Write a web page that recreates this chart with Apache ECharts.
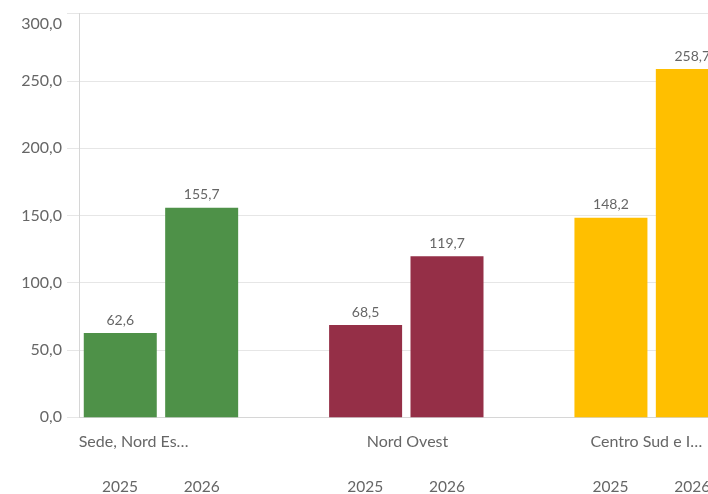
<!DOCTYPE html>
<html>
<head>
<meta charset="utf-8">
<script src="https://cdn.jsdelivr.net/npm/echarts@6/dist/echarts.min.js"></script>
<style>
html,body{margin:0;padding:0;background:#fff;}
#chart{width:708px;height:494px;}
</style>
</head>
<body>
<div id="chart"></div>
<script>
const categories = ['Sede, Nord Es…', 'Nord Ovest', 'Centro Sud e I…'];
const years = ['2025', '2026'];
const values2025 = [62.6, 68.5, 148.2];
const values2026 = [155.7, 119.7, 258.7];
const groupColors = ['#4E9148', '#952F47', '#FFBF00'];
const yMin = 0, yMax = 300, yStep = 50;

const fmt = v => v.toFixed(1).replace('.', ',');
const FONT = 'Lato';
const TXT = '#666666';

const chart = echarts.init(document.getElementById('chart'));

const mk = vals => vals.map((v, i) => ({ value: v, itemStyle: { color: groupColors[i] } }));
const yearSlots = [];
categories.forEach(() => { years.forEach(y => yearSlots.push(y)); yearSlots.push(''); });

const barLabel = {
  show: true, position: 'top', distance: 6,
  fontFamily: FONT, fontSize: 14, color: TXT,
  formatter: p => fmt(p.value)
};

chart.setOption({
  animation: false,
  backgroundColor: '#ffffff',
  grid: { left: 79, right: -107, top: 13.5, bottom: 76.7, outerBoundsMode: 'none', containLabel: false },
  xAxis: [
    {
      type: 'category', data: categories, position: 'bottom',
      axisLine: { show: true, lineStyle: { color: '#d6d6d6', width: 1 } },
      axisTick: { show: false },
      splitLine: { show: false },
      axisLabel: {
        interval: 0, margin: 17, fontFamily: FONT, fontSize: 16, color: TXT,
        formatter: (v, i) => '{c' + i + '|' + v + '}',
        rich: {
          c0: { fontFamily: FONT, fontSize: 16, color: TXT, padding: [0, 136, 0, 0] },
          c1: { fontFamily: FONT, fontSize: 16, color: TXT, padding: [0, 79, 0, 0] },
          c2: { fontFamily: FONT, fontSize: 16, color: TXT, padding: [0, 92, 0, 0] }
        }
      }
    },
    {
      type: 'category', data: yearSlots, position: 'bottom', gridIndex: 0,
      axisLine: { show: false }, axisTick: { show: false }, splitLine: { show: false },
      axisLabel: { interval: 0, margin: 62, fontFamily: FONT, fontSize: 15.5, color: TXT }
    }
  ],
  yAxis: {
    type: 'value', min: yMin, max: yMax, interval: yStep,
    axisLine: { show: true, lineStyle: { color: '#d6d6d6', width: 1 } },
    axisTick: { show: true, length: 12, lineStyle: { color: '#e6e6e6' } },
    splitLine: { show: true, lineStyle: { color: '#e6e6e6', width: 1 } },
    axisLabel: {
      margin: 17, fontFamily: FONT, fontSize: 16, color: TXT,
      formatter: v => v === yMax ? '{t|' + fmt(v) + '}' : fmt(v),
      rich: { t: { fontFamily: FONT, fontSize: 16, color: TXT, padding: [20, 0, 0, 0] } }
    }
  },
  series: [
    { name: years[0], type: 'bar', xAxisIndex: 0, barWidth: 73, barGap: '11.5%', data: mk(values2025), label: barLabel },
    { name: years[1], type: 'bar', xAxisIndex: 0, barWidth: 73, barGap: '11.5%', data: mk(values2026), label: barLabel },
    { name: 'spacer', type: 'bar', xAxisIndex: 0, barWidth: 73, barGap: '11.5%', data: [], silent: true }
  ]
});
</script>
</body>
</html>
